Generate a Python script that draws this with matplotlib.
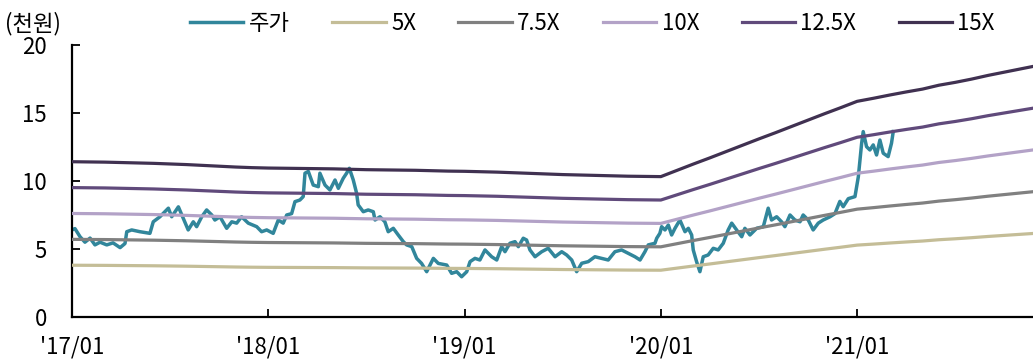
import matplotlib
matplotlib.use("Agg")
import matplotlib.pyplot as plt
import numpy as np

plt.rcParams['font.family'] = ['Noto Sans CJK KR', 'DejaVu Sans']

# 주가 (천원), x in decimal years
price_t = [2017.000, 2017.015, 2017.041, 2017.066, 2017.092, 2017.117, 2017.143, 2017.177,
           2017.209, 2017.245, 2017.270, 2017.279, 2017.304, 2017.346, 2017.397, 2017.414,
           2017.448, 2017.491, 2017.508, 2017.542, 2017.567, 2017.592, 2017.618, 2017.635,
           2017.661, 2017.686, 2017.712, 2017.728, 2017.754, 2017.788, 2017.814, 2017.839,
           2017.864, 2017.898, 2017.941, 2017.966, 2017.992, 2018.025, 2018.051, 2018.076,
           2018.094, 2018.119, 2018.136, 2018.161, 2018.178, 2018.187, 2018.204, 2018.229,
           2018.255, 2018.263, 2018.289, 2018.314, 2018.340, 2018.357, 2018.382, 2018.399,
           2018.413, 2018.433, 2018.450, 2018.458, 2018.484, 2018.509, 2018.535, 2018.544,
           2018.569, 2018.594, 2018.611, 2018.637, 2018.662, 2018.688, 2018.705, 2018.731,
           2018.756, 2018.781, 2018.807, 2018.841, 2018.866, 2018.909, 2018.934, 2018.960,
           2018.985, 2019.011, 2019.028, 2019.053, 2019.078, 2019.104, 2019.138, 2019.164,
           2019.189, 2019.206, 2019.231, 2019.257, 2019.274, 2019.299, 2019.316, 2019.333,
           2019.359, 2019.393, 2019.426, 2019.461, 2019.495, 2019.520, 2019.546, 2019.571,
           2019.597, 2019.630, 2019.664, 2019.698, 2019.732, 2019.766, 2019.800, 2019.834,
           2019.868, 2019.894, 2019.919, 2019.936, 2019.970, 2019.979, 2019.995, 2020.004,
           2020.021, 2020.038, 2020.055, 2020.072, 2020.097, 2020.123, 2020.140, 2020.157,
           2020.165, 2020.182, 2020.199, 2020.216, 2020.241, 2020.267, 2020.292, 2020.318,
           2020.343, 2020.361, 2020.386, 2020.412, 2020.428, 2020.454, 2020.488, 2020.522,
           2020.547, 2020.564, 2020.590, 2020.615, 2020.632, 2020.658, 2020.683, 2020.709,
           2020.725, 2020.751, 2020.776, 2020.802, 2020.827, 2020.862, 2020.887, 2020.912,
           2020.929, 2020.955, 2020.989, 2021.006, 2021.023, 2021.031, 2021.048, 2021.065,
           2021.082, 2021.099, 2021.116, 2021.133, 2021.158, 2021.175, 2021.184]
price = [6.40, 6.50, 5.90, 5.50, 5.80, 5.30, 5.50, 5.30,
         5.45, 5.10, 5.40, 6.27, 6.40, 6.27, 6.15, 7.00,
         7.37, 8.00, 7.37, 8.10, 7.26, 6.40, 7.00, 6.64,
         7.37, 7.87, 7.50, 7.13, 7.37, 6.52, 7.00, 6.90,
         7.37, 6.90, 6.64, 6.27, 6.40, 6.15, 7.13, 6.90,
         7.50, 7.60, 8.48, 8.60, 8.85, 10.57, 10.70, 9.70,
         9.58, 10.57, 9.70, 9.34, 10.07, 9.46, 10.20, 10.57,
         10.93, 10.07, 9.10, 8.24, 7.74, 7.87, 7.74, 7.13,
         7.37, 7.00, 6.27, 6.52, 6.03, 5.54, 5.30, 5.17,
         4.31, 3.94, 3.33, 4.31, 3.94, 3.82, 3.21, 3.33,
         2.96, 3.33, 4.07, 4.31, 4.19, 4.93, 4.43, 4.19,
         5.17, 4.80, 5.42, 5.54, 5.17, 5.79, 5.66, 4.93,
         4.43, 4.80, 5.05, 4.43, 4.80, 4.56, 4.19, 3.33,
         3.95, 4.07, 4.43, 4.31, 4.19, 4.80, 4.93, 4.68,
         4.43, 4.19, 4.80, 5.30, 5.42, 5.79, 6.15, 6.64,
         6.40, 6.76, 6.03, 6.52, 7.13, 6.27, 6.52, 6.03,
         4.93, 4.07, 3.33, 4.43, 4.56, 5.05, 4.93, 5.42,
         6.40, 6.90, 6.40, 5.90, 6.52, 6.03, 6.52, 6.64,
         8.00, 7.13, 7.37, 7.00, 6.64, 7.50, 7.13, 7.00,
         7.50, 7.13, 6.40, 6.90, 7.13, 7.37, 7.60, 8.50,
         8.11, 8.70, 8.85, 10.30, 12.77, 13.63, 12.52, 12.28,
         12.65, 11.91, 13.01, 12.04, 11.79, 12.77, 13.63]

# monthly EPS (천원), 2017/01 ~ 2021/12
eps = [0.761, 0.760, 0.759, 0.757, 0.755, 0.753, 0.750, 0.747, 0.743, 0.739, 0.735, 0.732,
       0.730, 0.729, 0.728, 0.727, 0.726, 0.724, 0.722, 0.721, 0.720, 0.719, 0.717, 0.715,
       0.714, 0.712, 0.710, 0.707, 0.704, 0.701, 0.698, 0.696, 0.694, 0.692, 0.690, 0.689,
       0.688, 0.719, 0.750, 0.780, 0.811, 0.842, 0.873, 0.903, 0.934, 0.965, 0.996, 1.026,
       1.057, 1.072, 1.088, 1.103, 1.117, 1.136, 1.150, 1.166, 1.184, 1.200, 1.216, 1.232]
eps_t = 2017 + np.arange(len(eps)) / 12

multiples = [5, 7.5, 10, 12.5, 15]
band_labels = ['5X', '7.5X', '10X', '12.5X', '15X']
band_colors = ['#C4BD97', '#808080', '#B3A2C7', '#604A7B', '#403151']

years = [2017, 2018, 2019, 2020, 2021]
year_labels = ["'17/01", "'18/01", "'19/01", "'20/01", "'21/01"]

fig = plt.figure(figsize=(10.33, 3.59), dpi=100)
ax = fig.add_axes([0.0697, 0.117, 0.9303, 0.7578])

ax.plot(price_t, price, color='#31869B', lw=2.5, label='주가', zorder=2)
for m, lab, c in zip(multiples, band_labels, band_colors):
    ax.plot(eps_t, np.array(eps) * m, color=c, lw=2.3, label=lab, zorder=3)

ax.set_xlim(2017.0, 2021.896)
ax.set_ylim(0, 20)
ax.set_yticks([0, 5, 10, 15, 20])
ax.set_xticks(years)
ax.set_xticklabels(year_labels)

for s in ['top', 'right']:
    ax.spines[s].set_visible(False)
for s in ['left', 'bottom']:
    ax.spines[s].set_linewidth(1.6)
ax.tick_params(axis='both', direction='in', length=6, width=1.3, labelsize=16, colors='#000000')
ax.tick_params(axis='x', pad=13)
ax.tick_params(axis='y', pad=18)

fig.text(0.005, 0.935, '(천원)', fontsize=16, ha='left', va='center')

fig.legend(loc='center left', bbox_to_anchor=(0.184, 0.935), ncol=6, frameon=False,
           fontsize=16, handlelength=2.4, handletextpad=0.25, columnspacing=1.9,
           borderpad=0, borderaxespad=0)

fig.savefig('out.png', dpi=100)
